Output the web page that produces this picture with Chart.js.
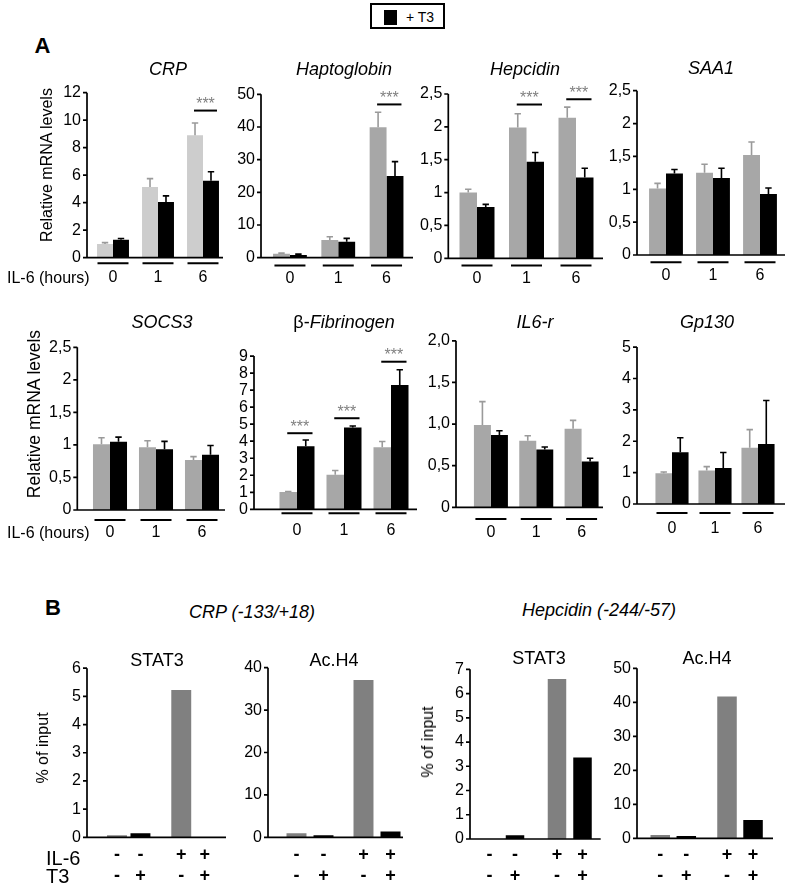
<!DOCTYPE html>
<html><head><meta charset="utf-8">
<script src="https://cdn.jsdelivr.net/npm/chart.js@4.4.1/dist/chart.umd.min.js"></script>
<style>
html,body{margin:0;padding:0;background:#fff;}
#fig{position:relative;width:787px;height:892px;overflow:hidden;font-family:"Liberation Sans",Arial,Helvetica,sans-serif;color:#000;}
#fig canvas{position:absolute;}
.t{position:absolute;white-space:nowrap;line-height:1;transform:translate(-50%,-50%);}
.tl{position:absolute;white-space:nowrap;line-height:1;transform:translate(0,-50%);}
.rot{position:absolute;white-space:nowrap;line-height:1;transform:translate(-50%,-50%) rotate(-90deg);}
</style></head>
<body><div id="fig"></div>
<script>
// ================= DATA =================
const groups = ['0', '1', '6'];            // IL-6 (hours)

const crpCtrl = [1.0, 5.15, 8.9];
const crpCtrlErr = [0.1, 0.6, 0.9];
const crpT3 = [1.3, 4.05, 5.6];
const crpT3Err = [0.1, 0.45, 0.65];
const crpSig = [null, null, 10.7];

const haptoCtrl = [1.2, 5.4, 39.9];
const haptoCtrlErr = [0.2, 1.0, 4.6];
const haptoT3 = [0.8, 4.9, 25.0];
const haptoT3Err = [0.3, 1.0, 4.4];
const haptoSig = [null, null, 46.9];

const hepcCtrl = [1.0, 1.99, 2.14];
const hepcCtrlErr = [0.05, 0.21, 0.16];
const hepcT3 = [0.78, 1.47, 1.23];
const hepcT3Err = [0.04, 0.14, 0.14];
const hepcSig = [null, 2.34, 2.42];

const saa1Ctrl = [1.01, 1.25, 1.52];
const saa1CtrlErr = [0.08, 0.13, 0.2];
const saa1T3 = [1.24, 1.17, 0.93];
const saa1T3Err = [0.06, 0.15, 0.09];
const saa1Sig = [null, null, null];

const socs3Ctrl = [1.01, 0.965, 0.77];
const socs3CtrlErr = [0.1, 0.1, 0.05];
const socs3T3 = [1.05, 0.935, 0.85];
const socs3T3Err = [0.07, 0.12, 0.14];
const socs3Sig = [null, null, null];

const fibCtrl = [1.02, 2.03, 3.65];
const fibCtrlErr = [0.03, 0.25, 0.33];
const fibT3 = [3.7, 4.8, 7.3];
const fibT3Err = [0.37, 0.09, 0.9];
const fibSig = [4.47, 5.35, 8.67];

const il6rCtrl = [0.99, 0.8, 0.945];
const il6rCtrlErr = [0.28, 0.06, 0.1];
const il6rT3 = [0.87, 0.694, 0.55];
const il6rT3Err = [0.05, 0.03, 0.04];
const il6rSig = [null, null, null];

const gp130Ctrl = [0.98, 1.07, 1.79];
const gp130CtrlErr = [0.04, 0.12, 0.58];
const gp130T3 = [1.65, 1.15, 1.91];
const gp130T3Err = [0.46, 0.49, 1.39];
const gp130Sig = [null, null, null];

const ticksCRP = ['0', '2', '4', '6', '8', '10', '12'];
const ticksHapto = ['0', '10', '20', '30', '40', '50'];
const ticks25 = ['0', '0,5', '1', '1,5', '2', '2,5'];
const ticksFib = ['0', '1', '2', '3', '4', '5', '6', '7', '8', '9'];
const ticksIL6r = ['0', '0,5', '1,0', '1,5', '2,0'];
const ticksGp = ['0', '1', '2', '3', '4', '5'];

// Panel B (ChIP): categories = IL-6 (-/+), series = T3 (-/+)
const chipIL6 = ['-', '+'];
const chipT3 = ['-', '+'];
const crpStat3Ctrl = [0.07, 5.23];
const crpStat3T3 = [0.14, 0.0];
const crpAcH4Ctrl = [0.94, 37.1];
const crpAcH4T3 = [0.5, 1.34];
const hepStat3Ctrl = [0.0, 6.6];
const hepStat3T3 = [0.15, 3.36];
const hepAcH4Ctrl = [0.98, 41.7];
const hepAcH4T3 = [0.69, 5.4];
const ticksB6 = ['0', '1', '2', '3', '4', '5', '6'];
const ticksB40 = ['0', '10', '20', '30', '40'];
const ticksB7 = ['0', '1', '2', '3', '4', '5', '6', '7'];
const ticksB50 = ['0', '10', '20', '30', '40', '50'];

// ================= STYLE / LAYOUT =================
const FONT = '"Liberation Sans", Arial, Helvetica, sans-serif';
Chart.defaults.font.family = FONT;
Chart.defaults.color = '#000';
const C_CRP = '#cdcdcd', C_GRAY = '#a7a7a7', C_GRAYB = '#808080', C_ERR = '#9a9a9a', C_BLACK = '#000000';

function ser(data, err, color, errColor) { return { data, err, color, errColor }; }

const specs = [
  // ---- Panel A, row 1
  { labels: groups, series: [ser(crpCtrl, crpCtrlErr, C_CRP, C_ERR), ser(crpT3, crpT3Err, C_BLACK, C_BLACK)], sig: crpSig,
    ticks: ticksCRP, max: 12, step: 2, axisX: 87, axisEnd: 223, yTop: 92.7, y0: 257.7, l: 90.5, r: 225.5, catPct: 0.71, underY: 263.3, labelY: 277.7 },
  { labels: groups, series: [ser(haptoCtrl, haptoCtrlErr, C_GRAY, C_ERR), ser(haptoT3, haptoT3Err, C_BLACK, C_BLACK)], sig: haptoSig,
    ticks: ticksHapto, max: 50, step: 10, axisX: 261, axisEnd: 413, yTop: 94.3, y0: 257.7, l: 265.8, r: 410.7, catPct: 0.70, underY: 265.5, labelY: 278.3 },
  { labels: groups, series: [ser(hepcCtrl, hepcCtrlErr, C_GRAY, C_ERR), ser(hepcT3, hepcT3Err, C_BLACK, C_BLACK)], sig: hepcSig,
    ticks: ticks25, max: 2.5, step: 0.5, axisX: 448.3, axisEnd: 603, yTop: 94, y0: 258.3, l: 452.25, r: 600.75, catPct: 0.707, underY: 265.5, labelY: 278.3 },
  { labels: groups, series: [ser(saa1Ctrl, saa1CtrlErr, C_GRAY, C_ERR), ser(saa1T3, saa1T3Err, C_BLACK, C_BLACK)], sig: saa1Sig,
    ticks: ticks25, max: 2.5, step: 0.5, axisX: 637, axisEnd: 785, yTop: 90.7, y0: 255, l: 642.5, r: 783.5, catPct: 0.72, underY: 262.3, labelY: 276 },
  // ---- Panel A, row 2
  { labels: groups, series: [ser(socs3Ctrl, socs3CtrlErr, C_GRAY, C_ERR), ser(socs3T3, socs3T3Err, C_BLACK, C_BLACK)], sig: socs3Sig,
    ticks: ticks25, max: 2.5, step: 0.5, axisX: 77.3, axisEnd: 225, yTop: 346, y0: 510, l: 87, r: 225, catPct: 0.74, underY: 520, labelY: 533 },
  { labels: groups, series: [ser(fibCtrl, fibCtrlErr, C_GRAY, C_ERR), ser(fibT3, fibT3Err, C_BLACK, C_BLACK)], sig: fibSig,
    ticks: ticksFib, max: 9, step: 1, axisX: 254, axisEnd: 417, yTop: 345, y0: 509.3, l: 273.5, r: 414.5, catPct: 0.745, underY: 513.3, labelY: 531 },
  { labels: groups, series: [ser(il6rCtrl, il6rCtrlErr, C_GRAY, C_ERR), ser(il6rT3, il6rT3Err, C_BLACK, C_BLACK)], sig: il6rSig,
    ticks: ticksIL6r, max: 2, step: 0.5, axisX: 456, axisEnd: 603, yTop: 337.3, y0: 507.3, l: 468.25, r: 604.25, catPct: 0.75, underY: 519, labelY: 533 },
  { labels: groups, series: [ser(gp130Ctrl, gp130CtrlErr, C_GRAY, C_ERR), ser(gp130T3, gp130T3Err, C_BLACK, C_BLACK)], sig: gp130Sig,
    ticks: ticksGp, max: 5, step: 1, axisX: 637, axisEnd: 785, yTop: 342.3, y0: 504, l: 650.5, r: 779.5, catPct: 0.77, underY: 513, labelY: 529 },
  // ---- Panel B
  { labels: chipIL6, chip: true, series: [ser(crpStat3Ctrl, null, C_GRAYB), ser(crpStat3T3, null, C_BLACK)],
    ticks: ticksB6, max: 6, step: 1, axisX: 87, axisEnd: 226, yTop: 667.7, y0: 837.3, l: 96.6, r: 225.1, catPct: 0.73, barPct: 0.85 },
  { labels: chipIL6, chip: true, series: [ser(crpAcH4Ctrl, null, C_GRAYB), ser(crpAcH4T3, null, C_BLACK)],
    ticks: ticksB40, max: 40, step: 10, axisX: 268, axisEnd: 403, yTop: 667.7, y0: 837.3, l: 276.5, r: 410.5, catPct: 0.806, barPct: 0.74 },
  { labels: chipIL6, chip: true, series: [ser(hepStat3Ctrl, null, C_GRAYB), ser(hepStat3T3, null, C_BLACK)],
    ticks: ticksB7, max: 7, step: 1, axisX: 470, axisEnd: 600.7, yTop: 669.3, y0: 839, l: 468.5, r: 603.5, catPct: 0.756, barPct: 0.725 },
  { labels: chipIL6, chip: true, series: [ser(hepAcH4Ctrl, null, C_GRAYB), ser(hepAcH4T3, null, C_BLACK)],
    ticks: ticksB50, max: 50, step: 10, axisX: 637, axisEnd: 773, yTop: 668.3, y0: 838.3, l: 639.9, r: 773.4, catPct: 0.78, barPct: 0.75 }
];
const SIGN_ROWS = [855, 876];

const fig = document.getElementById('fig');

function figPlugin(spec) {
  return {
    id: 'figdecor',
    afterDatasetsDraw(chart) {
      const ctx = chart.ctx, xs = chart.scales.x, ys = chart.scales.y;
      const ox = spec.canvasLeft, oy = spec.canvasTop;
      ctx.save();
      // error bars (upper only)
      spec.series.forEach((s, di) => {
        if (!s.err) return;
        const meta = chart.getDatasetMeta(di);
        meta.data.forEach((el, j) => {
          const e = s.err[j];
          if (!e) return;
          const yT = ys.getPixelForValue(s.data[j] + e);
          ctx.strokeStyle = s.errColor;
          ctx.lineWidth = 1.6;
          ctx.beginPath();
          ctx.moveTo(el.x, el.y); ctx.lineTo(el.x, yT);
          ctx.moveTo(el.x - 3.2, yT); ctx.lineTo(el.x + 3.2, yT);
          ctx.stroke();
        });
      });
      // axes
      const ax = spec.axisX - ox, ae = spec.axisEnd - ox;
      const top = ys.getPixelForValue(ys.max), bot = ys.getPixelForValue(0);
      ctx.strokeStyle = '#000';
      ctx.lineWidth = 1.7;
      ctx.beginPath();
      ctx.moveTo(ax, top); ctx.lineTo(ax, bot); ctx.lineTo(ae, bot);
      ys.ticks.forEach(t => {
        const py = ys.getPixelForValue(t.value);
        ctx.moveTo(ax - 4, py); ctx.lineTo(ax, py);
      });
      ctx.stroke();
      // group underlines
      if (spec.underY) {
        ctx.lineWidth = 2;
        ctx.beginPath();
        spec.labels.forEach((_, i) => {
          const c = xs.getPixelForValue(i);
          ctx.moveTo(c - 15.5, spec.underY - oy); ctx.lineTo(c + 15.5, spec.underY - oy);
        });
        ctx.stroke();
      }
      // significance bars
      if (spec.sig) {
        const m0 = chart.getDatasetMeta(0), m1 = chart.getDatasetMeta(1);
        spec.sig.forEach((v, i) => {
          if (v == null) return;
          const g = m0.data[i], b = m1.data[i];
          const x1 = g.x - 1, x2 = b.x + b.width / 2 - 2;
          const y = ys.getPixelForValue(v);
          ctx.strokeStyle = '#000'; ctx.lineWidth = 2;
          ctx.beginPath(); ctx.moveTo(x1, y); ctx.lineTo(x2, y); ctx.stroke();
          ctx.fillStyle = '#808080';
          ctx.font = '16px ' + FONT;
          ctx.textAlign = 'center'; ctx.textBaseline = 'alphabetic';
          ctx.fillText('***', (x1 + x2) / 2, y - 1.5);
        });
      }
      // ChIP sign rows
      if (spec.chip) {
        ctx.fillStyle = '#000';
        ctx.font = 'bold 18px ' + FONT;
        ctx.textAlign = 'center'; ctx.textBaseline = 'middle';
        spec.series.forEach((s, di) => {
          chart.getDatasetMeta(di).data.forEach((el, j) => {
            ctx.fillText(chipIL6[j], el.x, SIGN_ROWS[0] - oy);
            ctx.fillText(chipT3[di], el.x, SIGN_ROWS[1] - oy);
          });
        });
      }
      ctx.restore();
    }
  };
}

function makeChart(spec) {
  const left = Math.floor(spec.axisX - 48);
  const top = Math.floor(spec.yTop - 24);
  const right = Math.ceil(Math.max(spec.r, spec.axisEnd) + 6);
  const bottom = Math.ceil(spec.y0 + 50);
  const W = right - left, H = bottom - top;
  spec.canvasLeft = left; spec.canvasTop = top;
  const cv = document.createElement('canvas');
  cv.width = W; cv.height = H;
  cv.style.left = left + 'px'; cv.style.top = top + 'px';
  cv.style.width = W + 'px'; cv.style.height = H + 'px';
  fig.appendChild(cv);
  const yw = spec.l - left, xh = bottom - spec.y0;
  const padTop = spec.yTop - top, padRight = right - spec.r;
  const tickLabels = spec.ticks;
  new Chart(cv, {
    type: 'bar',
    data: {
      labels: spec.labels,
      datasets: spec.series.map(s => ({
        data: s.data, backgroundColor: s.color, borderWidth: 0,
        categoryPercentage: spec.catPct, barPercentage: spec.barPct || 1
      }))
    },
    options: {
      responsive: false, animation: false, devicePixelRatio: 1,
      layout: { padding: { left: 0, top: padTop, right: padRight, bottom: 0 } },
      plugins: { legend: { display: false }, tooltip: { enabled: false }, title: { display: false } },
      scales: {
        x: {
          type: 'category', offset: true,
          grid: { display: false, drawTicks: false }, border: { display: false },
          ticks: { display: !spec.chip, padding: spec.chip ? 0 : (spec.labelY - spec.y0 - 9.6),
                   font: { size: 16 }, color: '#000', maxRotation: 0, autoSkip: false },
          afterFit: s => { s.height = xh; }
        },
        y: {
          min: 0, max: spec.max,
          grid: { display: false, drawTicks: false }, border: { display: false },
          ticks: { stepSize: spec.step, autoSkip: false, padding: spec.l - spec.axisX + 6,
                   font: { size: 16 }, color: '#000',
                   callback: (v, i) => tickLabels[i] },
          afterFit: s => { s.width = yw; }
        }
      }
    },
    plugins: [figPlugin(spec)]
  });
}

specs.forEach(makeChart);

// ================= TEXT =================
function txt(html, x, y, style, cls) {
  const d = document.createElement('div');
  d.className = cls || 't';
  d.innerHTML = html;
  d.style.left = x + 'px'; d.style.top = y + 'px';
  Object.assign(d.style, style || {});
  fig.appendChild(d);
  return d;
}
const S16 = { fontSize: '16px' }, S18 = { fontSize: '18px' }, S18i = { fontSize: '18px', fontStyle: 'italic' };

// legend
const lg = document.createElement('div');
Object.assign(lg.style, { position: 'absolute', left: '370px', top: '3px', width: '75px', height: '26px', border: '2px solid #000', boxSizing: 'border-box' });
fig.appendChild(lg);
const sq = document.createElement('div');
Object.assign(sq.style, { position: 'absolute', left: '384px', top: '10px', width: '13px', height: '15px', background: '#000' });
fig.appendChild(sq);
txt('+ T3', 406, 17, { fontSize: '14px' }, 'tl');

// panel letters
txt('A', 42.5, 46, { fontSize: '22px', fontWeight: 'bold' });
txt('B', 53, 608, { fontSize: '22px', fontWeight: 'bold' });

// panel A titles
txt('CRP', 168, 69, S18i);
txt('Haptoglobin', 344, 69, S18i);
txt('Hepcidin', 525, 69, S18i);
txt('SAA1', 711, 68, S18i);
txt('SOCS3', 162, 322, S18i);
txt('β-<i>Fibrinogen</i>', 344, 322, S18);
txt('IL6-r', 535, 322, S18i);
txt('Gp130', 707, 322, S18i);

// y titles
txt('Relative mRNA levels', 47, 165, { fontSize: '16px' }, 'rot');
txt('Relative mRNA levels', 35, 414, { fontSize: '17.5px' }, 'rot');
txt('IL-6 (hours)', 7, 278, S16, 'tl');
txt('IL-6 (hours)', 7, 533, S16, 'tl');

// panel B
txt('CRP (-133/+18)', 252, 612, S18i);
txt('Hepcidin (-244/-57)', 599, 610, S18i);
txt('STAT3', 157, 660, S18);
txt('Ac.H4', 334, 660, S18);
txt('STAT3', 539, 658, S18);
txt('Ac.H4', 707, 658, S18);
txt('% of input', 43, 748, S16, 'rot');
txt('% of input', 428, 742, S16, 'rot');
txt('IL-6', 46, 858, { fontSize: '20px' }, 'tl');
txt('T3', 46, 876, { fontSize: '20px' }, 'tl');
</script>
</body></html>
